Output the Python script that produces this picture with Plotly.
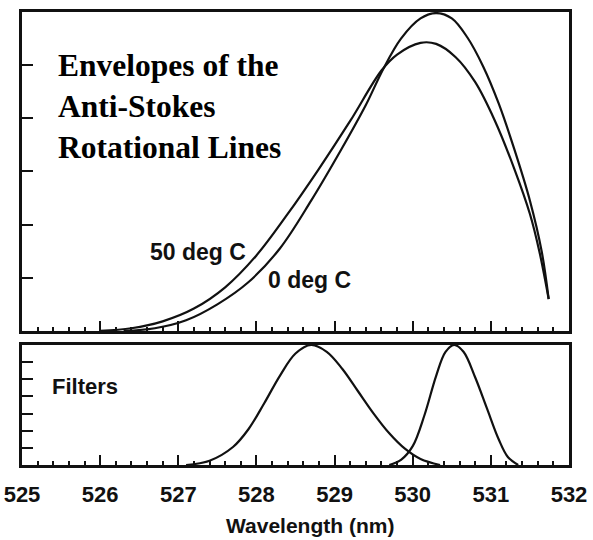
import plotly.graph_objects as go
from plotly.subplots import make_subplots

# Envelope of the anti-Stokes rotational lines at two temperatures
env_50c_x = [526.0, 526.4, 526.8, 527.2, 527.6, 528.0, 528.4, 528.8, 529.2, 529.6,
             529.8, 530.1, 530.3, 530.55, 530.8, 531.05, 531.3, 531.5, 531.62, 531.74]
env_50c_y = [0.0, 0.05, 0.18, 0.42, 0.82, 1.42, 2.2, 3.05, 3.95, 4.9,
             5.2, 5.42, 5.4, 5.15, 4.68, 3.96, 3.05, 2.2, 1.5, 0.6]

env_0c_x = [526.3, 526.7, 527.1, 527.5, 527.9, 528.3, 528.7, 529.1, 529.4, 529.62,
            529.85, 530.1, 530.3, 530.5, 530.7, 530.9, 531.1, 531.3, 531.5, 531.65, 531.74]
env_0c_y = [0.0, 0.05, 0.2, 0.5, 0.92, 1.55, 2.45, 3.45, 4.25, 4.92,
            5.5, 5.88, 5.98, 5.88, 5.52, 4.98, 4.28, 3.42, 2.45, 1.5, 0.6]

# Transmission of the two filters
filter_a_x = [527.1, 527.4, 527.7, 527.9, 528.1, 528.3, 528.5, 528.7, 528.9, 529.1,
              529.3, 529.5, 529.7, 529.9, 530.1, 530.35]
filter_a_y = [0.0, 0.25, 1.05, 2.1, 3.6, 5.2, 6.5, 7.0, 6.6, 5.6,
              4.3, 3.0, 1.85, 0.95, 0.35, 0.0]

filter_b_x = [529.7, 529.85, 530.0, 530.15, 530.3, 530.42, 530.53, 530.65, 530.8, 530.95,
              531.1, 531.22, 531.35]
filter_b_y = [0.0, 0.3, 1.1, 2.9, 5.2, 6.6, 7.0, 6.6, 5.1, 3.3,
              1.5, 0.45, 0.0]

wavelength_ticks = [525, 526, 527, 528, 529, 530, 531, 532]

INK = "#111111"
SANS = "Liberation Sans"
SERIF = "Liberation Serif"

fig = make_subplots(rows=2, cols=1)

line_style = dict(color=INK, width=2.2, shape="spline", smoothing=1.0)
fig.add_trace(go.Scatter(x=env_50c_x, y=env_50c_y, mode="lines", line=line_style,
                         name="50 deg C", showlegend=False), row=1, col=1)
fig.add_trace(go.Scatter(x=env_0c_x, y=env_0c_y, mode="lines", line=line_style,
                         name="0 deg C", showlegend=False), row=1, col=1)
fig.add_trace(go.Scatter(x=filter_a_x, y=filter_a_y, mode="lines", line=line_style,
                         name="Filter 1", showlegend=False), row=2, col=1)
fig.add_trace(go.Scatter(x=filter_b_x, y=filter_b_y, mode="lines", line=line_style,
                         name="Filter 2", showlegend=False), row=2, col=1)

axis_common = dict(showline=True, mirror=True, linecolor=INK, linewidth=2.5,
                   showgrid=False, zeroline=False, ticks="inside", tickcolor=INK,
                   tickwidth=2, automargin=False)

x_common = dict(axis_common, range=[525, 532], tickmode="array",
                tickvals=wavelength_ticks, ticklen=10,
                minor=dict(ticks="inside", dtick=0.2, tick0=525, ticklen=4,
                           tickcolor=INK, tickwidth=2, showgrid=False))

fig.update_xaxes(x_common, showticklabels=False, domain=[0, 1], row=1, col=1)
fig.update_xaxes(x_common, showticklabels=True, domain=[0, 1],
                 ticktext=[str(v) for v in wavelength_ticks],
                 tickfont=dict(family=SANS, size=22, color=INK, weight="bold"),
                 ticklabelstandoff=8, row=2, col=1)

fig.update_yaxes(axis_common, range=[0, 6], dtick=1, ticklen=11,
                 showticklabels=False, domain=[0.296, 1], row=1, col=1)
fig.update_yaxes(axis_common, range=[0, 7], dtick=1, ticklen=11,
                 showticklabels=False, domain=[0, 0.265], row=2, col=1)

fig.add_annotation(x=525.43, y=4.23, xref="x", yref="y", xanchor="left", yanchor="middle",
                   align="left", showarrow=False,
                   text="<b>Envelopes of the<br>Anti-Stokes<br>Rotational Lines</b>",
                   font=dict(family=SERIF, size=31.5, color="#000000"))
fig.add_annotation(x=527.25, y=1.48, xref="x", yref="y", showarrow=False,
                   text="<b>50 deg C</b>", font=dict(family=SANS, size=23, color=INK))
fig.add_annotation(x=528.68, y=0.96, xref="x", yref="y", showarrow=False,
                   text="<b>0 deg C</b>", font=dict(family=SANS, size=23, color=INK))
fig.add_annotation(x=525.8, y=4.55, xref="x2", yref="y2", showarrow=False,
                   text="<b>Filters</b>", font=dict(family=SANS, size=22, color=INK))
fig.add_annotation(x=528.69, y=0.0, xref="x2", yref="paper", yanchor="middle",
                   yshift=-60, showarrow=False,
                   text="<b>Wavelength (nm)</b>", font=dict(family=SANS, size=21, color=INK))

fig.update_layout(width=593, height=540, margin=dict(l=22, r=24, t=12, b=75),
                  paper_bgcolor="white", plot_bgcolor="white", showlegend=False)

fig.write_html("out.html")
